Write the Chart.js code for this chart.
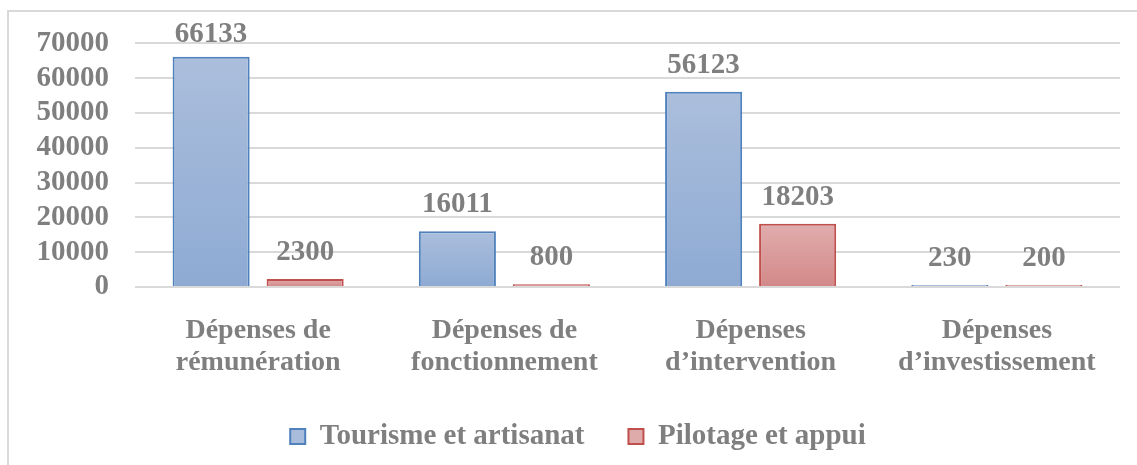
<!DOCTYPE html>
<html>
<head>
<meta charset="utf-8">
<script src="https://cdn.jsdelivr.net/npm/chart.js@4.4.1/dist/chart.umd.min.js"></script>
<style>
  html, body { margin: 0; padding: 0; background: #ffffff; }
  #wrap { position: relative; width: 1137px; height: 465px; }
</style>
</head>
<body>
<div id="wrap"><canvas id="c" width="1137" height="465"></canvas></div>
<script>
const categories = [
  ["Dépenses de", "rémunération"],
  ["Dépenses de", "fonctionnement"],
  ["Dépenses", "d’intervention"],
  ["Dépenses", "d’investissement"]
];
const seriesNames = ["Tourisme et artisanat", "Pilotage et appui"];
const tourismeValues = [66133, 16011, 56123, 230];
const pilotageValues = [2300, 800, 18203, 200];
const yTickStep = 10000;
const yMax = 70000;

const FONT = '"Liberation Serif", "Times New Roman", serif';
const TEXT = '#7f7f7f';

function gradFill(top, bottom) {
  return function (ctx) {
    const chart = ctx.chart;
    if (!chart.chartArea || ctx.type !== 'data') return top;
    const y = chart.scales.y;
    const v = ctx.raw;
    const y0 = y.getPixelForValue(0);
    const y1 = y.getPixelForValue(v);
    if (!isFinite(y0) || !isFinite(y1) || Math.abs(y0 - y1) < 1) return top;
    const g = chart.ctx.createLinearGradient(0, y1, 0, y0);
    g.addColorStop(0, top);
    g.addColorStop(1, bottom);
    return g;
  };
}

const borderPlugin = {
  id: 'frame',
  beforeDraw(chart) {
    const c = chart.ctx;
    c.save();
    c.strokeStyle = '#d9d9d9';
    c.lineWidth = 2;
    c.beginPath();
    c.moveTo(8, 465);
    c.lineTo(8, 11);
    c.lineTo(1137, 11);
    c.stroke();
    c.restore();
  }
};

const labelPlugin = {
  id: 'valueLabels',
  afterDatasetsDraw(chart) {
    const c = chart.ctx;
    c.save();
    c.font = 'bold 29px ' + FONT;
    c.fillStyle = TEXT;
    c.textAlign = 'center';
    c.textBaseline = 'alphabetic';
    chart.data.datasets.forEach((ds, di) => {
      const meta = chart.getDatasetMeta(di);
      meta.data.forEach((el, i) => {
        const yb = Math.max(el.y - 19, 42);
        c.fillText(String(ds.data[i]), el.x, yb);
      });
    });
    c.restore();
  }
};

new Chart(document.getElementById('c'), {
  type: 'bar',
  data: {
    labels: categories,
    datasets: [
      {
        label: seriesNames[0],
        data: tourismeValues,
        backgroundColor: gradFill('#abbedc', '#8eaad3'),
        borderColor: '#4f81bd',
        borderWidth: 2,
        minBarLength: 2,
        legendFill: '#a9bcdb',
        categoryPercentage: 0.7635,
        barPercentage: 0.82
      },
      {
        label: seriesNames[1],
        data: pilotageValues,
        backgroundColor: gradFill('#e1adad', '#d38888'),
        borderColor: '#c0504d',
        borderWidth: 2,
        minBarLength: 2,
        legendFill: '#dfaaaa',
        categoryPercentage: 0.7635,
        barPercentage: 0.82
      }
    ]
  },
  options: {
    responsive: false,
    animation: false,
    devicePixelRatio: 1,
    layout: { padding: { top: 39, right: 17, bottom: 4, left: 36 } },
    scales: {
      x: {
        grid: { display: false, drawTicks: false },
        border: { display: false },
        ticks: {
          color: TEXT,
          font: { family: FONT, size: 28, weight: 'bold', lineHeight: 32 / 28 },
          padding: 28,
          maxRotation: 0,
          autoSkip: false
        },
        afterFit(scale) { scale.height = 91; }
      },
      y: {
        min: 0,
        max: yMax,
        grid: { color: '#d9d9d9', lineWidth: 2, drawTicks: false },
        border: { display: false },
        ticks: {
          stepSize: yTickStep,
          autoSkip: false,
          color: TEXT,
          font: { family: FONT, size: 29, weight: 'bold' },
          padding: 26,
          callback: (v) => String(v)
        },
        afterFit(scale) { scale.width = 99; }
      }
    },
    plugins: {
      legend: {
        position: 'bottom',
        labels: {
          color: TEXT,
          font: { family: FONT, size: 29, weight: 'bold' },
          boxWidth: 15,
          boxHeight: 15,
          padding: 44,
          generateLabels(chart) {
            return chart.data.datasets.map((ds, i) => ({
              text: ds.label,
              fillStyle: ds.legendFill,
              strokeStyle: ds.borderColor,
              lineWidth: 2,
              fontColor: TEXT,
              hidden: false,
              datasetIndex: i
            }));
          }
        }
      },
      tooltip: { enabled: false }
    }
  },
  plugins: [borderPlugin, labelPlugin]
});
</script>
</body>
</html>
